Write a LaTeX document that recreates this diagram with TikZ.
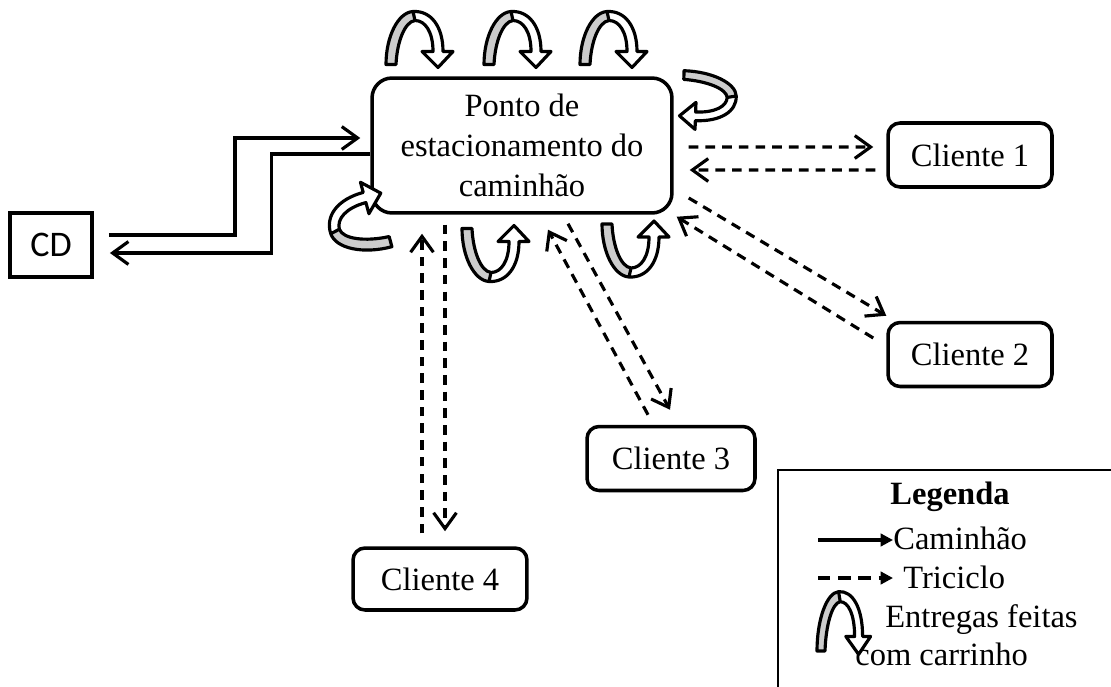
\documentclass[tikz,border=0pt]{standalone}
\usepackage{fontspec}
\setmainfont{Liberation Serif}
\newfontfamily\cdfont{Carlito}
\usetikzlibrary{arrows.meta,calc}

\tikzset{
  txt/.style={font=\fontsize{18.5pt}{22.7pt}\selectfont},
  box_style/.style={draw=black,line width=2pt,rounded corners=0.24cm,
    minimum width=3.28cm,minimum height=1.28cm,txt},
  truck/.style={draw=black,line width=1.8pt,-{Straight Barb[length=9pt,width=13pt]}},
  tricycle/.style={truck,dash pattern=on 5.5pt off 4pt},
  backface/.style={fill=black!20},
  ribbon/.style={draw=black,line width=1.8pt,line join=round},
  cartarrow/.pic={
    \begin{scope}[shift={(-35,-28)}]
      \fill[white] (0,53) .. controls (0,25) and (12,1) .. (27,0)
        .. controls (45,-1) and (57,15) .. (57,40) -- (67,40) -- (52,56) -- (36,40) -- (47,40)
        .. controls (47,20) and (39,9) .. (29,9)
        .. controls (19,10) and (11,30) .. (10,53) -- cycle;
      \fill[backface] (0,53) .. controls (0,25) and (12,1) .. (27,0) -- (29,9)
        .. controls (19,10) and (11,30) .. (10,53) -- cycle;
      \draw[ribbon] (0,53) .. controls (0,25) and (12,1) .. (27,0)
        .. controls (45,-1) and (57,15) .. (57,40) -- (67,40) -- (52,56) -- (36,40) -- (47,40)
        .. controls (47,20) and (39,9) .. (29,9)
        .. controls (19,10) and (11,30) .. (10,53) -- cycle;
      \draw[ribbon] (27,0) -- (29,9);
    \end{scope}
  }
}

\begin{document}
\begin{tikzpicture}[x=0.02cm,y=-0.02cm]
  \useasboundingbox (0,0) rectangle (1111,686);

  % nodes
  \node[box_style,rounded corners=0.4cm,minimum width=6cm,minimum height=2.7cm,align=center]
    (main) at (522,145.5) {Ponto de\\estacionamento do\\caminhão};
  \node[draw=black,line width=2.2pt,minimum width=1.64cm,minimum height=1.28cm,
    font=\cdfont\fontsize{20.5pt}{24pt}\selectfont] (cd) at (51,245) {CD};
  \node[box_style] (c1) at (970,155) {Cliente 1};
  \node[box_style] (c2) at (970,354.5) {Cliente 2};
  \node[box_style,minimum width=3.36cm] (c3) at (671,458.5) {Cliente 3};
  \node[box_style,minimum width=3.48cm,minimum height=1.24cm] (c4) at (440,579) {Cliente 4};

  % caminhao
  \draw[truck] ($(cd.east)+(15,-10)$) -- ++(126,0) |- ($(main.west)+(-10,-7.5)$);
  \draw[truck] ($(main.west)+(0,8.5)$) -- ++(-99,0) |- ($(cd.east)+(16,8)$);

  % triciclo
  \draw[tricycle] ($(main.east)+(15,1.5)$) -- ($(c1.west)+(-13,-8)$);
  \draw[tricycle] ($(c1.west)+(-11,15)$) -- ($(main.east)+(16,24.5)$);
  \draw[tricycle] ($(main.east)+(15,52.5)$) -- ($(c2.north west)+(0,-5)$);
  \draw[tricycle] ($(c2.west)+(-13,-16.5)$) -- ($(main.south east)+(3,2)$);
  \draw[tricycle] ($(main.south)+(46,9)$) -- ($(c3.north)+(-1,-15)$);
  \draw[tricycle] ($(c3.north)+(-23,-10)$) -- ($(main.south)+(26,15)$);
  \draw[tricycle] ($(c4.north)+(-18,-13)$) -- ($(main.south)+(-100,19)$);
  \draw[tricycle] ($(main.south)+(-77,10)$) -- ($(c4.north)+(5,-15)$);

  % carrinho
  \pic at (421,39.5) {cartarrow};
  \pic at (519,39.5) {cartarrow};
  \pic at (615,39.5) {cartarrow};
  \pic[yscale=-1] at (497,253.5) {cartarrow};
  \pic[yscale=-1] at (637,249) {cartarrow};
  \pic[rotate=105,scale=1.05] at (357,218) {cartarrow};
  \pic[rotate=-92,xscale=0.87] at (708,102) {cartarrow};

  % legenda
  \draw[line width=1.4pt] (778,700) |- (1120,470);
  \node[txt] (leg) at (950,497) {\bfseries Legenda};
  \coordinate (ltruck) at (818,540);
  \node[txt,anchor=base west,inner sep=0pt] (lcam) at (893,549) {Caminhão};
  \draw[truck,-{Triangle[length=7pt,width=7pt]}] (ltruck) -- (ltruck -| lcam.west);
  \coordinate (ltri) at (818,578);
  \node[txt,anchor=base west,inner sep=0pt] (ltxt) at (903,588) {Triciclo};
  \draw[tricycle,dash pattern=on 7pt off 4.5pt,-{Triangle[length=7pt,width=7pt]}]
    (ltri) -- (ltri -| lcam.west);
  \pic[xscale=0.8,yscale=1.12] at (845,623) {cartarrow};
  \node[txt,anchor=base west,inner sep=0pt] (lent) at (885,627) {Entregas feitas};
  \node[txt,anchor=base west,inner sep=0pt] (lcom) at (855,665) {com carrinho};
\end{tikzpicture}
\end{document}
